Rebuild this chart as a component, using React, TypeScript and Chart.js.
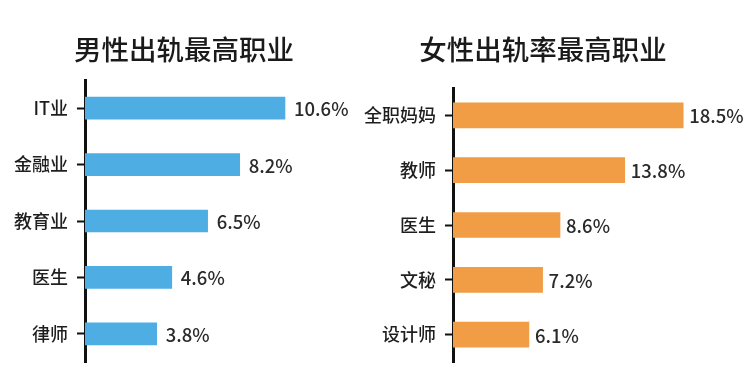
import React, { useEffect, useRef } from "react";
import { Chart, registerables } from "chart.js";

Chart.register(...registerables);

const maleTitle = "男性出轨最高职业";
const maleJobs = ["IT业", "金融业", "教育业", "医生", "律师"];
const maleRates = [10.6, 8.2, 6.5, 4.6, 3.8];

const femaleTitle = "女性出轨率最高职业";
const femaleJobs = ["全职妈妈", "教师", "医生", "文秘", "设计师"];
const femaleRates = [18.5, 13.8, 8.6, 7.2, 6.1];

const FONT = "'Noto Sans CJK SC', 'Noto Sans', sans-serif";

const valueLabels = {
  id: "valueLabels",
  afterDatasetsDraw(chart: any) {
    const ctx = chart.ctx;
    const meta = chart.getDatasetMeta(0);
    const data = chart.data.datasets[0].data;
    const gap = chart.options.plugins.valueLabels?.gap ?? 8;
    ctx.save();
    ctx.fillStyle = "#2a2a2a";
    ctx.font = `500 18.5px ${FONT}`;
    ctx.textAlign = "left";
    ctx.textBaseline = "middle";
    meta.data.forEach((bar: any, i: number) => {
      ctx.fillText(`${data[i]}%`, bar.x + gap, bar.y + 1);
    });
    ctx.restore();
  },
};

function makeConfig(
  title: string,
  labels: string[],
  values: number[],
  color: string,
  opts: {
    axisWidth: number;
    max: number;
    thickness: number;
    titleBottom: number;
    padRight: number;
    gap: number;
  }
): any {
  return {
    type: "bar",
    data: {
      labels,
      datasets: [
        {
          data: values,
          backgroundColor: color,
          borderWidth: 0,
          barThickness: opts.thickness,
        },
      ],
    },
    options: {
      indexAxis: "y",
      animation: false,
      responsive: false,
      events: [],
      layout: { padding: { top: 0, bottom: 13, left: 0, right: opts.padRight } },
      plugins: {
        legend: { display: false },
        tooltip: { enabled: false },
        valueLabels: { gap: opts.gap },
        title: {
          display: true,
          text: title,
          color: "#1a1a1a",
          font: { family: FONT, size: 27.5, weight: "500" },
          padding: { top: 33, bottom: opts.titleBottom },
        },
      },
      scales: {
        x: { display: false, min: 0, max: opts.max },
        y: {
          offset: true,
          border: { display: true, color: "#111", width: 3 },
          grid: {
            display: true,
            offset: false,
            drawOnChartArea: false,
            drawTicks: true,
            tickLength: 8,
            tickWidth: 2,
            tickColor: "#111",
          },
          ticks: {
            color: "#1e1e1e",
            padding: 9,
            font: { family: FONT, size: 18, weight: "500" },
          },
          afterFit(scale: any) {
            scale.width = opts.axisWidth;
            scale.paddingTop = 0;
            scale.paddingBottom = 0;
          },
        },
      },
    },
    plugins: [valueLabels],
  };
}

export default function App() {
  const leftRef = useRef<HTMLCanvasElement>(null);
  const rightRef = useRef<HTMLCanvasElement>(null);

  useEffect(() => {
    document.body.style.margin = "0";
    document.body.style.background = "#fff";
    const left = new Chart(
      leftRef.current!,
      makeConfig(maleTitle, maleJobs, maleRates, "#4eaee4", {
        axisWidth: 85,
        max: 15,
        thickness: 22,
        titleBottom: 14,
        padRight: 5,
        gap: 9,
      })
    );
    const right = new Chart(
      rightRef.current!,
      makeConfig(femaleTitle, femaleJobs, femaleRates, "#f09d45", {
        axisWidth: 100,
        max: 22.5,
        thickness: 25,
        titleBottom: 22,
        padRight: 13,
        gap: 6,
      })
    );
    return () => {
      left.destroy();
      right.destroy();
    };
  }, []);

  return (
    <div style={{ position: "relative", width: 746, height: 375, background: "#fff" }}>
      <canvas
        ref={leftRef}
        width={373}
        height={375}
        style={{ display: "block", position: "absolute", left: 0, top: 0 }}
      />
      <canvas
        ref={rightRef}
        width={393}
        height={375}
        style={{ display: "block", position: "absolute", left: 353, top: 0 }}
      />
    </div>
  );
}
